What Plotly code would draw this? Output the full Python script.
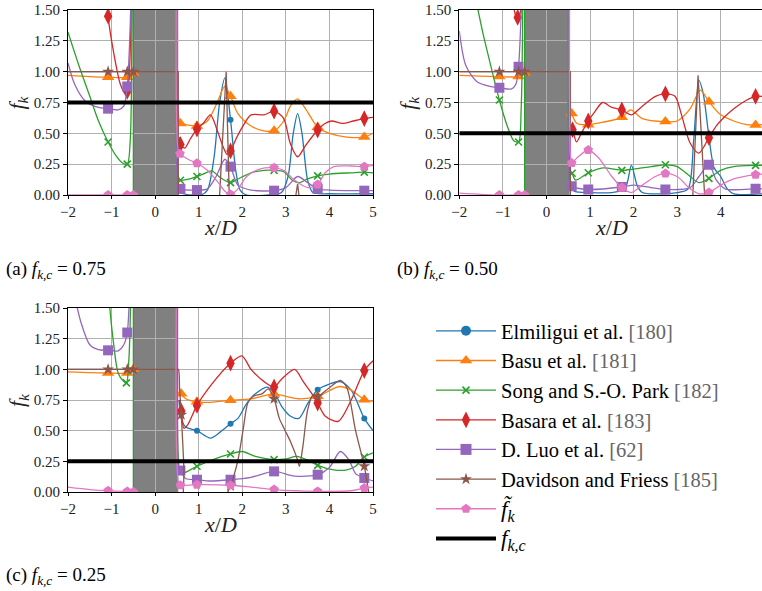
import plotly.graph_objects as go

# ---------------- data ----------------
X_RANGE = [-2, 5]
Y_RANGE = [0, 1.5]
X_TICKS = [-2, -1, 0, 1, 2, 3, 4, 5]
Y_TICKS = [0.0, 0.25, 0.5, 0.75, 1.0, 1.25, 1.5]
CYLINDER = [-0.5, 0.53]
FKC = [0.75, 0.50, 0.25]
CAPTIONS = ["(a)", "(b)", "(c)"]

NAMES = ["Elmiligui et al.", "Basu et al.", "Song and S.-O. Park", "Basara et al.",
         "D. Luo et al.", "Davidson and Friess"]
REFS = ["[180]", "[181]", "[182]", "[183]", "[62]", "[185]"]

G = None  # gap
M = 1     # marker flag

# ---- panel (a): f_kc = 0.75 ----
elm_a = [(-2, 1.0), (-0.5, 1.0), G,
         (0.55, 0.02), (0.8, 0.0), (1.05, 0.0), (1.2, 0.04), (1.35, 0.3), (1.48, 0.75), (1.6, 0.95),
         (1.73, 0.61, M), (1.85, 0.2), (1.95, 0.04), (2.1, 0.0), (2.6, 0.0), (2.9, 0.02), (3.05, 0.15),
         (3.17, 0.5), (3.27, 0.66), (3.37, 0.5), (3.5, 0.12), (3.62, 0.02), (4.0, 0.01), (5.0, 0.01)]
bas_a = [(-2, 0.97), (-1.5, 0.96), (-1.08, 0.955, M), (-0.64, 0.955, M), (-0.5, 0.99, M), G,
         (0.53, 0.68), (0.58, 0.58, M), (0.7, 0.57), (0.96, 0.56, M), (1.2, 0.6), (1.4, 0.73), (1.6, 0.88),
         (1.73, 0.8, M), (1.9, 0.66), (2.2, 0.56), (2.5, 0.52), (2.73, 0.52, M), (2.95, 0.6), (3.12, 0.73),
         (3.27, 0.78), (3.45, 0.7), (3.73, 0.55, M), (4.0, 0.5), (4.4, 0.47), (4.8, 0.47, M), (5.0, 0.5)]
song_a = [(-2, 1.32), (-1.75, 1.05), (-1.5, 0.8), (-1.3, 0.6), (-1.08, 0.43, M), (-0.9, 0.32), (-0.75, 0.26),
          (-0.64, 0.25, M), (-0.57, 0.45), (-0.53, 1.6), (-0.5, 3.0), (-0.5, 0.0), G,
          (0.53, 3.0), (0.54, 0.14), (0.58, 0.12, M), (0.8, 0.13), (0.96, 0.15, M), (1.1, 0.17), (1.3, 0.195),
          (1.5, 0.14), (1.73, 0.1, M), (1.9, 0.13), (2.2, 0.18), (2.5, 0.2), (2.73, 0.2, M), (2.95, 0.19),
          (3.15, 0.12), (3.3, 0.1), (3.5, 0.13), (3.73, 0.155, M), (4.0, 0.17), (4.5, 0.18), (4.8, 0.185, M),
          (5.0, 0.18)]
bsr_a = [(-1.12, 1.7), (-1.08, 1.45, M), (-0.95, 1.15), (-0.8, 0.9), (-0.7, 0.83), (-0.64, 0.84, M),
         (-0.59, 1.0), (-0.55, 1.6), (-0.53, 2.5), G,
         (0.55, 0.47), (0.58, 0.41, M), (0.68, 0.38), (0.8, 0.45), (0.96, 0.535, M), (1.1, 0.58), (1.27, 0.65),
         (1.4, 0.55), (1.55, 0.4), (1.65, 0.33), (1.73, 0.357, M), (1.85, 0.45), (2.0, 0.55), (2.2, 0.65),
         (2.5, 0.65), (2.73, 0.68, M), (2.95, 0.62), (3.1, 0.42), (3.27, 0.31), (3.45, 0.4), (3.73, 0.527, M),
         (3.9, 0.58), (4.05, 0.6), (4.3, 0.58), (4.55, 0.6), (4.8, 0.62, M), (5.0, 0.63)]
luo_a = [(-2, 1.07), (-1.85, 0.9), (-1.6, 0.76), (-1.3, 0.71), (-1.08, 0.7, M), (-0.85, 0.69), (-0.72, 0.72),
         (-0.64, 0.88, M), (-0.59, 1.2), (-0.55, 1.7), (-0.53, 2.5), G,
         (0.52, 3.0), (0.53, 0.08), (0.58, 0.05, M), (0.96, 0.04, M), (1.2, 0.05), (1.4, 0.15), (1.6, 0.29),
         (1.73, 0.23, M), (1.9, 0.08), (2.2, 0.04), (2.73, 0.035, M), (3.0, 0.06), (3.27, 0.15), (3.5, 0.1),
         (3.73, 0.05, M), (4.0, 0.04), (4.8, 0.035, M), (5.0, 0.035)]
dav_a = [(-2, 1.0), (-1.08, 1.0, M), (-0.64, 1.0, M), (-0.5, 1.0, M), (0.53, 1.0), (0.53, -0.3),
         (1.4, -0.3), (1.48, 0.0), (1.63, 1.0), (1.7, 0.0), (1.8, -0.3), (3.1, -0.3), (3.24, 0.0),
         (3.27, 0.09), (3.3, 0.0), (3.45, -0.3), (5.0, -0.3)]
fk_a = [(-2, 0.0), (-1.08, 0.0, M), (-0.64, 0.0, M), (-0.5, 0.0, M), G,
        (0.52, 3.0), (0.53, 0.36), (0.57, 0.335, M), (0.75, 0.29), (0.96, 0.257, M), (1.2, 0.2), (1.45, 0.1),
        (1.6, 0.03), (1.73, 0.005, M), (1.9, 0.05), (2.1, 0.15), (2.4, 0.21), (2.73, 0.22, M), (2.95, 0.2),
        (3.2, 0.12), (3.5, 0.06), (3.73, 0.086, M), (3.9, 0.18), (4.1, 0.23), (4.5, 0.235), (4.8, 0.23, M),
        (5.0, 0.24)]

# ---- panel (b): f_kc = 0.50 ----
elm_b = [(-2, 1.0), (-0.5, 1.0), G,
         (0.53, 0.25), (0.55, 0.06), (0.65, 0.03), (1.0, 0.02), (1.5, 0.02), (1.8, 0.05), (1.95, 0.24),
         (2.08, 0.08), (2.2, 0.02), (3.0, 0.02), (3.25, 0.05), (3.38, 0.45), (3.5, 0.93), (3.6, 0.82),
         (3.72, 0.5), (3.85, 0.22), (4.0, 0.15), (4.15, 0.05), (4.3, 0.01), (4.95, 0.01)]
bas_b = [(-2, 0.97), (-1.08, 0.96, M), (-0.64, 0.96, M), (-0.5, 0.99, M), G,
         (0.53, 0.72), (0.58, 0.66, M), (0.7, 0.58), (0.96, 0.57, M), (1.3, 0.59), (1.73, 0.63, M),
         (1.93, 0.69), (2.2, 0.62), (2.73, 0.595, M), (3.0, 0.6), (3.3, 0.7), (3.53, 0.85), (3.73, 0.757, M),
         (4.0, 0.65), (4.3, 0.6), (4.6, 0.57), (4.8, 0.567, M), (4.95, 0.57)]
song_b = [(-1.6, 1.55), (-1.45, 1.3), (-1.3, 1.08), (-1.08, 0.77, M), (-0.9, 0.56), (-0.75, 0.44),
          (-0.64, 0.43, M), (-0.58, 0.7), (-0.54, 1.6), (-0.5, 3.0), (-0.5, 0.0), G,
          (0.53, 3.0), (0.55, 0.2), (0.59, 0.176, M), (0.67, 0.12), (0.96, 0.18, M), (1.3, 0.22),
          (1.73, 0.2, M), (2.0, 0.21), (2.4, 0.23), (2.73, 0.245, M), (3.0, 0.23), (3.3, 0.15), (3.5, 0.1),
          (3.73, 0.135, M), (4.0, 0.2), (4.3, 0.23), (4.8, 0.24, M), (4.95, 0.24)]
bsr_b = [(-0.78, 1.7), (-0.72, 1.47), (-0.66, 1.44, M), (-0.6, 1.48), (-0.56, 1.6), (-0.54, 2.0), G,
         (0.55, 0.56), (0.6, 0.53, M), (0.69, 0.43), (0.8, 0.5), (0.96, 0.6, M), (1.1, 0.67), (1.29, 0.75),
         (1.5, 0.71), (1.73, 0.69, M), (1.95, 0.65), (2.2, 0.72), (2.5, 0.8), (2.73, 0.82, M), (2.95, 0.8),
         (3.1, 0.65), (3.3, 0.42), (3.5, 0.34), (3.73, 0.465, M), (3.9, 0.56), (4.05, 0.62), (4.3, 0.7),
         (4.6, 0.77), (4.8, 0.8, M), (4.95, 0.8)]
luo_b = [(-2, 1.33), (-1.85, 1.05), (-1.6, 0.92), (-1.3, 0.88), (-1.08, 0.87, M), (-0.8, 0.86), (-0.7, 0.9),
         (-0.64, 1.04, M), (-0.6, 1.3), (-0.56, 1.7), (-0.54, 2.5), G,
         (0.53, 3.0), (0.54, 0.1), (0.58, 0.07, M), (0.96, 0.045, M), (1.73, 0.065, M), (2.0, 0.08),
         (2.4, 0.06), (2.73, 0.045, M), (3.3, 0.06), (3.5, 0.15), (3.73, 0.245, M), (3.9, 0.12), (4.1, 0.05),
         (4.8, 0.05, M), (4.95, 0.05)]
dav_b = [(-2, 1.0), (-1.08, 1.0, M), (-0.64, 1.0, M), (-0.5, 1.0, M), (0.55, 1.0), (0.55, -0.3),
         (3.3, -0.3), (3.36, 0.0), (3.48, 0.97), (3.63, 0.0), (3.7, -0.3), (4.95, -0.3)]
fk_b = [(-2, 0.015), (-1.5, 0.005), (-1.08, 0.0, M), (-0.64, 0.0, M), (-0.5, 0.0, M), G,
        (0.55, 3.0), (0.56, 0.28), (0.58, 0.26, M), (0.7, 0.3), (0.96, 0.365, M), (1.2, 0.3), (1.5, 0.15),
        (1.73, 0.06, M), (1.95, 0.02), (2.2, 0.08), (2.5, 0.15), (2.73, 0.175, M), (3.0, 0.15), (3.3, 0.05),
        (3.5, 0.01), (3.73, 0.02, M), (4.0, 0.08), (4.3, 0.13), (4.8, 0.165, M), (4.95, 0.17)]

# ---- panel (c): f_kc = 0.25 ----
elm_c = [(-2, 1.0), (-0.5, 1.0), G,
         (0.55, 0.75), (0.6, 0.6), (0.7, 0.53), (0.96, 0.5, M), (1.27, 0.44), (1.5, 0.49), (1.73, 0.557, M),
         (1.9, 0.6), (2.1, 0.72), (2.3, 0.8), (2.57, 0.855), (2.75, 0.8), (2.9, 0.7), (3.1, 0.62), (3.3, 0.6),
         (3.5, 0.72), (3.73, 0.834, M), (4.0, 0.88), (4.25, 0.9), (4.5, 0.83), (4.8, 0.6, M), (5.0, 0.5)]
bas_c = [(-2, 0.98), (-1.08, 0.97, M), (-0.64, 0.97, M), (-0.5, 1.0, M), G,
         (0.55, 0.85), (0.6, 0.8, M), (0.7, 0.76), (0.96, 0.735, M), (1.2, 0.73), (1.73, 0.747, M),
         (2.2, 0.76), (2.73, 0.8, M), (3.0, 0.78), (3.3, 0.76), (3.73, 0.78, M), (4.23, 0.86), (4.5, 0.83),
         (4.8, 0.753, M), (5.0, 0.74)]
song_c = [(-1.08, 1.7), (-1.04, 1.5), (-0.95, 1.2), (-0.85, 0.97), (-0.73, 0.905), (-0.66, 0.89, M),
          (-0.6, 1.1), (-0.56, 1.6), (-0.53, 2.5), (-0.5, 3.0), (-0.5, 0.0), G,
          (0.53, 3.0), (0.55, 0.2), (0.6, 0.15), (0.96, 0.21, M), (1.3, 0.26), (1.73, 0.31, M), (2.0, 0.33),
          (2.3, 0.29), (2.73, 0.264, M), (3.0, 0.27), (3.25, 0.29), (3.5, 0.26), (3.73, 0.217, M), (4.1, 0.18),
          (4.4, 0.18), (4.6, 0.21), (4.8, 0.285, M), (5.0, 0.32)]
bsr_c = [(0.55, 0.75), (0.6, 0.66, M), (0.66, 0.52), (0.75, 0.55), (0.96, 0.706, M), (1.3, 0.88),
         (1.73, 1.05, M), (1.99, 1.11), (2.2, 1.0), (2.5, 0.9), (2.73, 0.856, M), (2.9, 0.92), (3.2, 1.0),
         (3.4, 0.9), (3.6, 0.8), (3.73, 0.725, M), (3.9, 0.62), (4.2, 0.576), (4.5, 0.75), (4.8, 0.99, M),
         (5.0, 1.07)]
luo_c = [(-1.85, 1.6), (-1.7, 1.38), (-1.5, 1.2), (-1.3, 1.16), (-1.08, 1.155, M), (-0.85, 1.15),
         (-0.72, 1.2), (-0.64, 1.3, M), (-0.6, 1.5), (-0.56, 1.8), (-0.54, 2.5), G,
         (0.53, 3.0), (0.54, 0.2), (0.58, 0.175, M), (0.7, 0.11), (0.96, 0.1, M), (1.2, 0.09),
         (1.73, 0.1, M), (2.2, 0.12), (2.73, 0.168, M), (3.2, 0.13), (3.73, 0.141, M), (4.0, 0.2),
         (4.25, 0.33), (4.45, 0.26), (4.6, 0.15), (4.8, 0.114, M), (5.0, 0.09)]
dav_c = [(-2, 1.0), (-1.08, 1.0, M), (-0.64, 1.0, M), (-0.5, 1.0, M), (0.0, 1.0), (0.45, 1.0), (0.53, 1.0),
         (0.56, 0.85), (0.6, 0.63, M), (0.66, 0.2), (0.72, -0.3), (1.3, -0.3), (1.6, -0.05), (1.73, 0.05, M),
         (1.9, 0.26), (2.02, 0.51), (2.13, 0.73), (2.25, 0.78), (2.45, 0.8), (2.6, 0.84), (2.73, 0.76, M),
         (2.85, 0.6), (2.97, 0.51), (3.12, 0.4), (3.27, 0.26), (3.31, 0.21), (3.39, 0.37), (3.5, 0.67),
         (3.62, 0.79), (3.73, 0.78, M), (4.0, 0.85), (4.25, 0.91), (4.4, 0.85), (4.6, 0.5), (4.8, 0.21, M),
         (4.9, 0.0), (5.0, -0.2)]
fk_c = [(-2, 0.04), (-1.5, 0.02), (-1.08, 0.01, M), (-0.64, 0.005, M), (-0.5, 0.0, M), G,
        (0.53, 3.0), (0.54, 0.07), (0.58, 0.055, M), (0.96, 0.06, M), (1.73, 0.055, M), (2.2, 0.04),
        (2.73, 0.02, M), (3.2, 0.01), (3.73, 0.005, M), (4.5, 0.01), (4.8, 0.033, M), (5.0, 0.04)]

# ---------------- styling ----------------
COLORS = ["#1f77b4", "#ff7f0e", "#2ca02c", "#d62728", "#9467bd", "#8c564b", "#e377c2"]
SYMBOLS = ["circle", "triangle-up", "x-thin", "diamond-tall", "square", "star", "pentagon"]
MSIZE = [6, 11, 7, 12, 10, 9, 10]
LEG_MSIZE = [10, 11, 7, 12, 11, 9, 10]

PANEL_SERIES = [
    [elm_a, bas_a, song_a, bsr_a, luo_a, dav_a, fk_a],
    [elm_b, bas_b, song_b, bsr_b, luo_b, dav_b, fk_b],
    [elm_c, bas_c, song_c, bsr_c, luo_c, dav_c, fk_c],
]
SHAPE_BROWN = ["linear", "linear", "spline"]

W, H = 762, 591
# pixel geometry of the three axes (left, right, top, bottom)
BOXES = [(68, 373, 10, 195), (459.3, 762, 10, 195), (68, 373, 308, 492)]
XMAX = [5, -2 + (762 - 459.3) / 43.57, 5]

SERIF = "Liberation Serif, DejaVu Serif, Times New Roman, serif"

fig = go.Figure()


def marker_dict(i, size):
    md = dict(symbol=SYMBOLS[i], size=size, color=COLORS[i], line=dict(width=0))
    if SYMBOLS[i] == "x-thin":
        md["line"] = dict(width=1.6, color=COLORS[i])
    return md


for p, series in enumerate(PANEL_SERIES):
    ax = "" if p == 0 else str(p + 1)
    for i, pts in enumerate(series):
        xs = [q[0] if q is not None else None for q in pts]
        ys = [q[1] if q is not None else None for q in pts]
        shape = SHAPE_BROWN[p] if i == 5 else "spline"
        fig.add_trace(go.Scatter(x=xs, y=ys, mode="lines", xaxis="x" + ax, yaxis="y" + ax,
                                 line=dict(color=COLORS[i], width=1.3, shape=shape, smoothing=0.8),
                                 showlegend=False, hoverinfo="skip"))
        mk = [q for q in pts if q is not None and len(q) > 2]
        fig.add_trace(go.Scatter(x=[q[0] for q in mk], y=[q[1] for q in mk], mode="markers",
                                 xaxis="x" + ax, yaxis="y" + ax, marker=marker_dict(i, MSIZE[i]),
                                 showlegend=False, hoverinfo="skip"))
    fig.add_trace(go.Scatter(x=[X_RANGE[0], XMAX[p]], y=[FKC[p], FKC[p]], mode="lines",
                             xaxis="x" + ax, yaxis="y" + ax, line=dict(color="black", width=4),
                             showlegend=False, hoverinfo="skip"))

# legend entries
for i in range(7):
    if i < 6:
        label = f"{NAMES[i]} <span style='color:#666666'>{REFS[i]}</span>"
    else:
        label = "<span style='font-size:23px'><i>f̃</i><sub><i>k</i></sub></span>"
    fig.add_trace(go.Scatter(x=[None], y=[None], mode="lines+markers", name=label,
                             line=dict(color=COLORS[i], width=1.3),
                             marker=marker_dict(i, LEG_MSIZE[i]), legendgroup=str(i)))
fig.add_trace(go.Scatter(x=[None], y=[None], mode="lines",
                         name="<span style='font-size:23px'><i>f</i><sub><i>k,c</i></sub></span>",
                         line=dict(color="black", width=4), legendgroup="7"))

layout = dict(width=W, height=H, margin=dict(l=0, r=0, t=0, b=0, autoexpand=False),
              paper_bgcolor="white", plot_bgcolor="white",
              font=dict(family=SERIF, color="black", size=15),
              showlegend=True,
              legend=dict(x=431 / W, y=1 - 311 / H, xanchor="left", yanchor="top",
                          font=dict(family=SERIF, size=20.5, color="black"),
                          bgcolor="rgba(0,0,0,0)", borderwidth=0, tracegroupgap=0,
                          itemwidth=60),
              shapes=[], annotations=[])

for p in range(3):
    ax = "" if p == 0 else str(p + 1)
    l, r, t, b = BOXES[p]
    layout["xaxis" + ax] = dict(domain=[l / W, r / W], range=[X_RANGE[0], XMAX[p]], anchor="y" + ax,
                                automargin=False,
                                tickvals=X_TICKS, ticktext=[str(v).replace("-", "\u2212") for v in X_TICKS],
                                showgrid=True, gridcolor="#b0b0b0", gridwidth=1, zeroline=False,
                                showline=True, linecolor="black", linewidth=1, mirror=True,
                                ticks="outside", ticklen=3, tickcolor="black",
                                tickfont=dict(family=SERIF, size=15, color="#222"))
    layout["yaxis" + ax] = dict(domain=[1 - b / H, 1 - t / H], range=Y_RANGE, anchor="x" + ax,
                                automargin=False,
                                tickvals=Y_TICKS, tickformat=".2f",
                                showgrid=True, gridcolor="#b0b0b0", gridwidth=1, zeroline=False,
                                showline=True, linecolor="black", linewidth=1, mirror=(p != 1),
                                ticks="outside", ticklen=4, tickcolor="black",
                                tickfont=dict(family=SERIF, size=15, color="#222"))
    layout["shapes"].append(dict(type="rect", xref="x" + ax, yref="y" + ax + " domain",
                                 x0=CYLINDER[0], x1=CYLINDER[1], y0=0, y1=1,
                                 fillcolor="#808080", line=dict(width=0), layer="below"))
    # axis titles
    layout["annotations"].append(dict(
        x=((l + min(r, 373 + (l - 68))) / 2) / W if p != 1 else (459.3 + 43.57 * 3.5) / W,
        y=1 - (b + 32) / H, xref="paper", yref="paper", xanchor="center", yanchor="middle",
        showarrow=False, font=dict(family=SERIF, size=22, color="#222"),
        text="<i>x</i>/<i>D</i>"))
    layout["annotations"].append(dict(
        x=(l - 50) / W, y=1 - ((t + b) / 2) / H, xref="paper", yref="paper",
        xanchor="center", yanchor="middle", textangle=-90,
        showarrow=False, font=dict(family=SERIF, size=22, color="#222"),
        text="<i>f</i><sub><i>k</i></sub>"))

CAP_POS = [(4, 270), (395, 270), (4, 576)]
for p in range(3):
    cx, cy = CAP_POS[p]
    layout["annotations"].append(dict(
        x=cx / W, y=1 - cy / H, xref="paper", yref="paper", xanchor="left", yanchor="middle",
        showarrow=False, font=dict(family=SERIF, size=19, color="black"),
        text=f"{CAPTIONS[p]} <i>f</i><sub><i>k,c</i></sub> = {FKC[p]:.2f}"))

fig.update_layout(**layout)
fig.write_html("out.html")
